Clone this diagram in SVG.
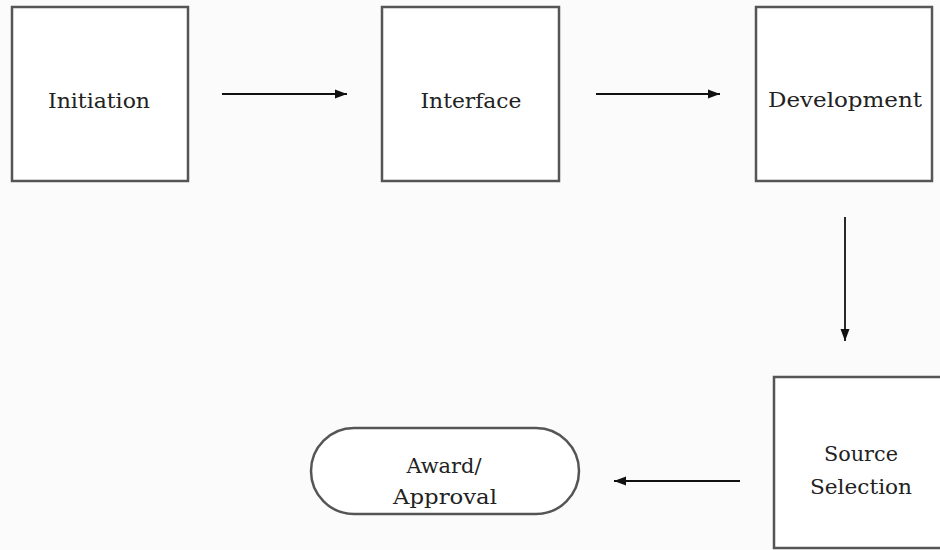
<svg xmlns="http://www.w3.org/2000/svg" width="940" height="550" viewBox="0 0 940 550">
  <defs>
    <marker id="arrow" viewBox="0 0 12 10" refX="12" refY="5" markerWidth="12" markerHeight="10" markerUnits="userSpaceOnUse" orient="auto">
      <path d="M0,0.5 L12,5 L0,9.5 Z" fill="#111"/>
    </marker>
    <style>
      .box { fill: #ffffff; stroke: #555555; stroke-width: 2.5; }
      .label { font-family: "DejaVu Serif", "Liberation Serif", serif; font-size: 21px; fill: #222222; text-anchor: middle; }
      .conn { stroke: #111111; stroke-width: 1.8; fill: none; marker-end: url(#arrow); }
    </style>
  </defs>

  <rect width="940" height="550" fill="#fbfbfb"/>

  <g id="initiation">
    <rect class="box" x="12" y="7" width="176" height="174"/>
    <text class="label" x="99" y="108" textLength="102" lengthAdjust="spacingAndGlyphs">Initiation</text>
  </g>

  <g id="interface">
    <rect class="box" x="382" y="7" width="177" height="174"/>
    <text class="label" x="471" y="108" textLength="101" lengthAdjust="spacingAndGlyphs">Interface</text>
  </g>

  <g id="development">
    <rect class="box" x="756" y="7" width="176" height="174"/>
    <text class="label" x="845" y="107" textLength="154" lengthAdjust="spacingAndGlyphs">Development</text>
  </g>

  <g id="source-selection">
    <rect class="box" x="774" y="377" width="180" height="171"/>
    <text class="label" x="861" y="461" textLength="74" lengthAdjust="spacingAndGlyphs">Source</text>
    <text class="label" x="861" y="494" textLength="102" lengthAdjust="spacingAndGlyphs">Selection</text>
  </g>

  <g id="award-approval">
    <rect class="box" x="311" y="428" width="268" height="86" rx="43" ry="43"/>
    <text class="label" x="444" y="473" textLength="75" lengthAdjust="spacingAndGlyphs">Award/</text>
    <text class="label" x="445" y="504" textLength="104" lengthAdjust="spacingAndGlyphs">Approval</text>
  </g>

  <g id="connectors">
    <line class="conn" x1="222" y1="94" x2="347" y2="94"/>
    <line class="conn" x1="596" y1="94" x2="720" y2="94"/>
    <line class="conn" x1="845" y1="217" x2="845" y2="341"/>
    <line class="conn" x1="740" y1="481" x2="614" y2="481"/>
  </g>
</svg>
